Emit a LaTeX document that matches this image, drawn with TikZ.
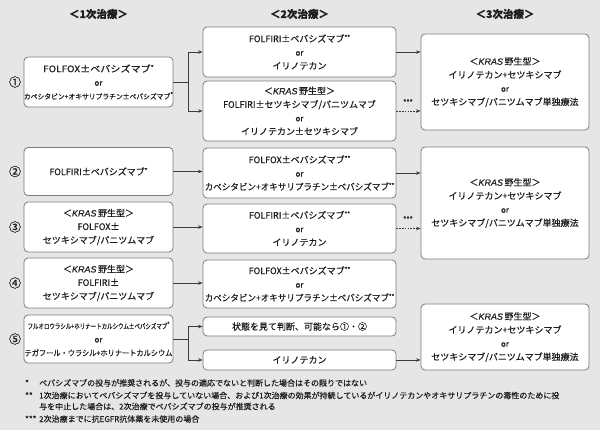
\documentclass[tikz,border=0pt]{standalone}
\usepackage{fontspec}
\setmainfont{Noto Sans CJK JP}[FakeBold=0.35]
\newfontfamily\latinit{Liberation Sans}[FakeBold=0.35]
\usetikzlibrary{arrows.meta}
\definecolor{bg}{RGB}{230,230,230}
\definecolor{txt}{RGB}{30,28,28}
\definecolor{bord}{RGB}{125,125,125}
\definecolor{lin}{RGB}{60,60,60}
\newcommand{\kras}{＜{\latinit\itshape KRAS}\,野生型＞}
\newcommand{\st}[1]{\raisebox{2.5pt}{\fontsize{6}{6}\selectfont #1}}
\newcommand{\hs}[2]{\scalebox{#1}[1]{#2}}
\newcommand{\orr}{{\fontsize{8}{8}\selectfont or}}
\newcommand{\smallf}{\fontsize{7}{7}\selectfont}
\begin{document}
\begin{tikzpicture}[x=1pt,y=-1pt,
  box/.style={draw=bord, line width=0.8pt, fill=white, rounded corners=4pt,
    align=center, inner sep=0pt, text=txt, font=\fontsize{9}{13.5}\selectfont},
  col1/.style={box, minimum width=149pt},
  col2/.style={box, minimum width=193pt},
  col3/.style={box, minimum width=168pt},
  head/.style={text=txt, font=\fontsize{10.5}{12}\selectfont\bfseries},
  num/.style={text=txt, font=\fontsize{12}{12}\selectfont},
  conn/.style={draw=lin, line width=0.7pt},
  arr/.style={conn, -{Stealth[length=4.5pt,width=3.5pt]}},
  darr/.style={arr, dash pattern=on 1.6pt off 1.2pt},
  fmark/.style={text=txt, font=\fontsize{8}{9}\selectfont, anchor=base west, inner sep=0pt},
  note/.style={text=txt, font=\fontsize{8}{9}\selectfont, anchor=base west, inner sep=0pt}
]
\fill[bg] (0,0) rectangle (600,430);
\path[use as bounding box] (0,0) rectangle (600,430);

% headers
\node[head] (h1) at (98.5,14) {＜1次治療＞};
\node[head] (h2) at (299.5,14) {＜2次治療＞};
\node[head] (h3) at (505,14) {＜3次治療＞};

% column 1
\node[col1, minimum height=50pt] (b1) at (98.5,82)
  {\hs{1.12}{FOLFOX±ベバシズマブ\st{*}}\\ \orr\\ {\smallf\hs{0.97}{カペシタビン+オキサリプラチン±ベバシズマブ\st{*}}}};
\node[col1, minimum height=48pt] (b2) at (98.5,171.5) {FOLFIRI±ベバシズマブ\st{*}};
\node[col1, minimum height=50pt] (b3) at (98.5,227) {\kras\\ FOLFOX±\\ セツキシマブ/パニツムマブ};
\node[col1, minimum height=50pt] (b4) at (98.5,283) {\kras\\ FOLFIRI±\\ セツキシマブ/パニツムマブ};
\node[col1, minimum height=48pt] (b5) at (98.5,339)
  {{\fontsize{7.2}{7.2}\selectfont\hs{0.76}{フルオロウラシル+ホリナートカルシウム±ベバシズマブ\st{*}}}\\ \orr\\ {\fontsize{8}{8}\selectfont\hs{0.9}{テガフール・ウラシル+ホリナートカルシウム}}};

% circled numbers
\node[num] (n1) at (15,82) {①};
\node[num] (n2) at (15,171.5) {②};
\node[num] (n3) at (15,227) {③};
\node[num] (n4) at (15,283) {④};
\node[num] (n5) at (15,339) {⑤};

% column 2
\node[col2, minimum height=50pt] (c1) at (299.5,52) {FOLFIRI±ベバシズマブ\st{**}\\ \orr\\ イリノテカン};
\node[col2, minimum height=60pt] (c2) at (299.5,111) {\kras\\ FOLFIRI±セツキシマブ/パニツムマブ\\ \orr\\ イリノテカン±セツキシマブ};
\node[col2, minimum height=50pt] (c3) at (299.5,173) {FOLFOX±ベバシズマブ\st{**}\\ \orr\\ \hs{0.95}{カペシタビン+オキサリプラチン±ベバシズマブ\st{**}}};
\node[col2, minimum height=49pt] (c4) at (299.5,228.5) {FOLFIRI±ベバシズマブ\st{**}\\ \orr\\ イリノテカン};
\node[col2, minimum height=48pt] (c5) at (299.5,284) {FOLFOX±ベバシズマブ\st{**}\\ \orr\\ \hs{0.95}{カペシタビン+オキサリプラチン±ベバシズマブ\st{**}}};
\node[col2, minimum height=19pt] (c6) at (299.5,326.5) {状態を見て判断、可能なら①・②};
\node[col2, minimum height=20pt] (c7) at (299.5,360) {イリノテカン};

% column 3
\node[col3, minimum height=96pt] (d1) at (505,82) {\kras\\ イリノテカン+セツキシマブ\\ \orr\\ セツキシマブ/パニツムマブ単独療法};
\node[col3, minimum height=112pt] (d2) at (505,203) {\kras\\ イリノテカン+セツキシマブ\\ \orr\\ セツキシマブ/パニツムマブ単独療法};
\node[col3, minimum height=66pt] (d3) at (505,337) {\kras\\ イリノテカン+セツキシマブ\\ \orr\\ セツキシマブ/パニツムマブ単独療法};

% connectors
\draw[conn] (b1.east) -- ++(15,0) coordinate (f1);
\draw[arr] (f1) |- (c1.west);
\draw[arr] (f1) |- (c2.west);
\draw[arr] (b2.east) -- (b2.east -| c3.west);
\draw[arr] (b3.east) -- (b3.east -| c4.west);
\draw[arr] (b4.east) -- (b4.east -| c5.west);
\draw[conn] (b5.east) -- ++(15,0) coordinate (f5);
\draw[arr] (f5) |- (c6.west);
\draw[arr] (f5) |- (c7.west);

\draw[arr] (c1.east) -- (c1.east -| d1.west);
\draw[darr] (c2.east) -- (c2.east -| d1.west);
\draw[arr] (c3.east) -- (c3.east -| d2.west);
\draw[darr] (c4.east) -- (c4.east -| d2.west);
\draw[arr] (c7.east) -- (c7.east -| d3.west);

\node[text=txt, font=\fontsize{7}{7}\selectfont] (s1) at (408,102) {***};
\node[text=txt, font=\fontsize{7}{7}\selectfont] (s2) at (408,219) {***};

% footnotes
\node[fmark] (m1) at (25,386) {*};
\node[note] (t1) at (39,386) {ベバシズマブの投与が推奨されるが、投与の適応でないと判断した場合はその限りではない};
\node[fmark] (m2) at (25,398.5) {**};
\node[note] (t2) at (39,398.5) {1次治療においてベバシズマブを投与していない場合、および1次治療の効果が持続しているがイリノテカンやオキサリプラチンの毒性のために投};
\node[note] (t3) at (39,409.5) {与を中止した場合は、2次治療でベバシズマブの投与が推奨される};
\node[fmark] (m4) at (25,422) {***};
\node[note] (t4) at (39,422) {2次治療までに抗EGFR抗体薬を未使用の場合};
\end{tikzpicture}
\end{document}
